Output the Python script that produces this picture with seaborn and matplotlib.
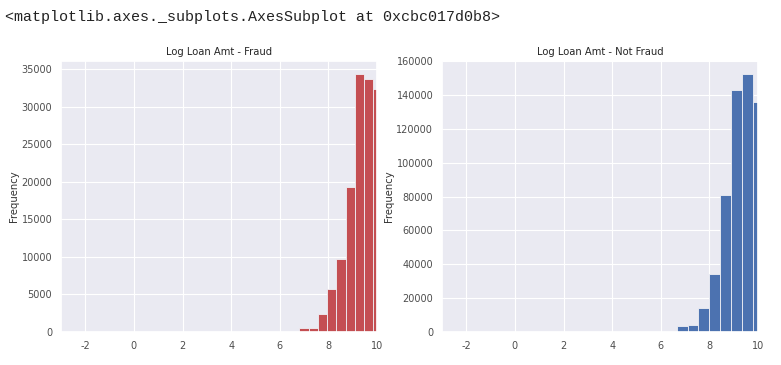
import matplotlib
matplotlib.use("Agg")
import matplotlib.pyplot as plt
import seaborn as sns
import numpy as np

# Data
fraud_edges = [6.81, 7.19, 7.57, 7.95, 8.33, 8.71, 9.09, 9.47, 9.85, 10.23]
fraud_counts = [580, 580, 2350, 5720, 9670, 19250, 34380, 33670, 32340]
notfraud_edges = [6.66, 7.105, 7.55, 7.995, 8.44, 8.885, 9.33, 9.775, 10.22]
notfraud_counts = [3530, 4320, 13940, 34360, 80690, 143120, 152500, 135850]
xticks = [-2, 0, 2, 4, 6, 8, 10]
title_fraud = "Log Loan Amt - Fraud"
title_notfraud = "Log Loan Amt - Not Fraud"
header = "<matplotlib.axes._subplots.AxesSubplot at 0xcbc017d0b8>"

sns.set_theme(style="darkgrid")
plt.rcParams['font.family'] = ['DejaVu Sans']
plt.rcParams['axes.unicode_minus'] = False
plt.rcParams['grid.linewidth'] = 0.8

W, H = 781, 365
fig = plt.figure(figsize=(W / 100, H / 100), dpi=100)

ax1 = fig.add_axes([61 / W, (H - 332) / H, (377 - 61) / W, (332 - 61) / H])
ax2 = fig.add_axes([442 / W, (H - 332) / H, (758 - 442) / W, (332 - 61) / H])

def draw(ax, edges, counts, color, title):
    mids = [(edges[i] + edges[i + 1]) / 2 for i in range(len(counts))]
    sns.histplot(x=mids, weights=counts, bins=edges, ax=ax, color=color,
                 alpha=1.0, edgecolor="#f0f0f5", linewidth=0.6)
    ax.set_xlim(-3, 10)
    ax.set_xticks(xticks)
    ax.set_title(title, fontsize=7.2, color=".15", pad=4.5)
    ax.set_ylabel("Frequency", fontsize=7.2, color=".2", labelpad=2)
    ax.set_xlabel("")
    ax.tick_params(labelsize=7, length=0, pad=6.3)
    for t in ax.get_xticklabels() + ax.get_yticklabels():
        t.set_color(".3")

draw(ax1, fraud_edges, fraud_counts, "#C44E52", title_fraud)
draw(ax2, notfraud_edges, notfraud_counts, "#4C72B0", title_notfraud)

fig.text(5 / W, 1 - 17 / H, header, family="Liberation Mono", fontsize=10.8,
         va="center", ha="left", color="#222222")

fig.savefig("out.png", dpi=100)
